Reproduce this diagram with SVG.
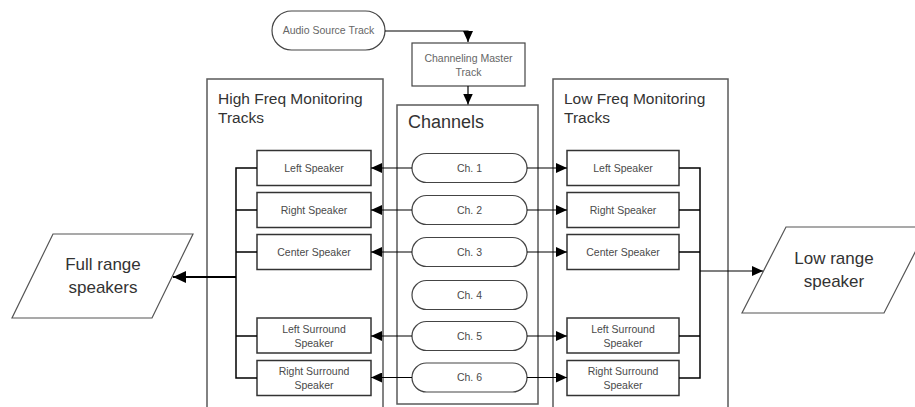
<svg xmlns="http://www.w3.org/2000/svg" width="915" height="407" viewBox="0 0 915 407">
  <defs>
    <marker id="arrow" markerUnits="userSpaceOnUse" markerWidth="12" markerHeight="10" refX="11" refY="5" orient="auto">
      <path d="M0,0 L11,5 L0,10 Z" fill="#000"/>
    </marker>
    <marker id="arrowBig" markerUnits="userSpaceOnUse" markerWidth="14" markerHeight="12" refX="13" refY="6" orient="auto">
      <path d="M0,0 L13,6 L0,12 Z" fill="#000"/>
    </marker>
    <style>
      .container { fill: #fff; stroke: #5a5a5a; stroke-width: 1.5; }
      .box { fill: #fff; stroke: #333; stroke-width: 1.5; }
      .term { fill: #fff; stroke: #444; stroke-width: 1.2; }
      .io { fill: #fff; stroke: #555; stroke-width: 1.2; }
      .title { font-family: "Liberation Sans", Arial, sans-serif; font-size: 15.5px; fill: #333; }
      .big { font-family: "Liberation Sans", Arial, sans-serif; font-size: 18px; fill: #333; }
      .io-text { font-family: "Liberation Sans", Arial, sans-serif; font-size: 17px; fill: #333; text-anchor: middle; }
      .small { font-family: "Liberation Sans", Arial, sans-serif; font-size: 10.5px; fill: #4a4a4a; text-anchor: middle; }
      .faint { font-family: "Liberation Sans", Arial, sans-serif; font-size: 10.5px; fill: #666; text-anchor: middle; }
      .wire { fill: none; stroke: #000; stroke-width: 1.2; }
      .wire-bold { fill: none; stroke: #000; stroke-width: 2; }
    </style>
  </defs>

  <!-- Source and master track -->
  <g id="audio-source">
    <rect class="term" x="272" y="11" width="113" height="39" rx="19.5"/>
    <text class="faint" x="328.5" y="34">Audio Source Track</text>
  </g>
  <g id="channeling-master">
    <rect class="box" x="412" y="43" width="113" height="43" style="stroke:#444;stroke-width:1.2"/>
    <text class="faint" x="468.5" y="62">Channeling Master</text>
    <text class="faint" x="468.5" y="76">Track</text>
  </g>

  <!-- Containers -->
  <g id="high-freq">
    <rect class="container" x="207" y="79" width="176" height="340"/>
    <text class="title" x="218" y="104">High Freq Monitoring</text>
    <text class="title" x="218" y="123">Tracks</text>
  </g>
  <g id="channels">
    <rect class="container" x="397" y="105" width="141" height="299"/>
    <text class="big" x="408" y="128">Channels</text>
  </g>
  <g id="low-freq">
    <rect class="container" x="553" y="79" width="175" height="340"/>
    <text class="title" x="564" y="104">Low Freq Monitoring</text>
    <text class="title" x="564" y="123">Tracks</text>
  </g>

  <!-- High frequency speaker tracks -->
  <g id="hf-left">
    <rect class="box" x="257" y="150.5" width="114" height="35"/>
    <text class="small" x="314" y="171.5">Left Speaker</text>
  </g>
  <g id="hf-right">
    <rect class="box" x="257" y="192.5" width="114" height="35"/>
    <text class="small" x="314" y="213.5">Right Speaker</text>
  </g>
  <g id="hf-center">
    <rect class="box" x="257" y="234.5" width="114" height="35"/>
    <text class="small" x="314" y="255.5">Center Speaker</text>
  </g>
  <g id="hf-left-surround">
    <rect class="box" x="257" y="318" width="114" height="35"/>
    <text class="small" x="314" y="333">Left Surround</text>
    <text class="small" x="314" y="347">Speaker</text>
  </g>
  <g id="hf-right-surround">
    <rect class="box" x="257" y="360.5" width="114" height="35"/>
    <text class="small" x="314" y="375">Right Surround</text>
    <text class="small" x="314" y="389">Speaker</text>
  </g>

  <!-- Channels -->
  <g id="ch1">
    <rect class="term" x="412" y="153.5" width="115" height="29" rx="14.5"/>
    <text class="small" x="469.5" y="171.5">Ch. 1</text>
  </g>
  <g id="ch2">
    <rect class="term" x="412" y="195.5" width="115" height="29" rx="14.5"/>
    <text class="small" x="469.5" y="213.5">Ch. 2</text>
  </g>
  <g id="ch3">
    <rect class="term" x="412" y="237.5" width="115" height="29" rx="14.5"/>
    <text class="small" x="469.5" y="255.5">Ch. 3</text>
  </g>
  <g id="ch4">
    <rect class="term" x="412" y="280.5" width="115" height="29" rx="14.5"/>
    <text class="small" x="469.5" y="298.5">Ch. 4</text>
  </g>
  <g id="ch5">
    <rect class="term" x="412" y="321.5" width="115" height="29" rx="14.5"/>
    <text class="small" x="469.5" y="339.5">Ch. 5</text>
  </g>
  <g id="ch6">
    <rect class="term" x="412" y="363" width="115" height="29" rx="14.5"/>
    <text class="small" x="469.5" y="381">Ch. 6</text>
  </g>

  <!-- Low frequency speaker tracks -->
  <g id="lf-left">
    <rect class="box" x="567" y="150.5" width="112" height="35"/>
    <text class="small" x="623" y="171.5">Left Speaker</text>
  </g>
  <g id="lf-right">
    <rect class="box" x="567" y="192.5" width="112" height="35"/>
    <text class="small" x="623" y="213.5">Right Speaker</text>
  </g>
  <g id="lf-center">
    <rect class="box" x="567" y="234.5" width="112" height="35"/>
    <text class="small" x="623" y="255.5">Center Speaker</text>
  </g>
  <g id="lf-left-surround">
    <rect class="box" x="567" y="318" width="112" height="35"/>
    <text class="small" x="623" y="333">Left Surround</text>
    <text class="small" x="623" y="347">Speaker</text>
  </g>
  <g id="lf-right-surround">
    <rect class="box" x="567" y="360.5" width="112" height="35"/>
    <text class="small" x="623" y="375">Right Surround</text>
    <text class="small" x="623" y="389">Speaker</text>
  </g>

  <!-- Outputs -->
  <g id="full-range">
    <polygon class="io" points="53,234 193,234 152,318 12,318"/>
    <text class="io-text" x="103" y="270">Full range</text>
    <text class="io-text" x="103" y="293">speakers</text>
  </g>
  <g id="low-range">
    <polygon class="io" points="786,227 928,227 884,313 742,313"/>
    <text class="io-text" x="834" y="264">Low range</text>
    <text class="io-text" x="834" y="287">speaker</text>
  </g>

  <!-- Connectors -->
  <g id="connectors">
    <path class="wire" d="M385,31 H468 V42" marker-end="url(#arrow)"/>
    <path class="wire" d="M468,86 V104.5" marker-end="url(#arrow)"/>

    <!-- channels to high frequency tracks -->
    <path class="wire" d="M412,168 H371" marker-end="url(#arrow)"/>
    <path class="wire" d="M412,210 H371" marker-end="url(#arrow)"/>
    <path class="wire" d="M412,252 H371" marker-end="url(#arrow)"/>
    <path class="wire" d="M412,336 H371" marker-end="url(#arrow)"/>
    <path class="wire" d="M412,377.5 H371" marker-end="url(#arrow)"/>

    <!-- channels to low frequency tracks -->
    <path class="wire" d="M527,168 H567" marker-end="url(#arrow)"/>
    <path class="wire" d="M527,210 H567" marker-end="url(#arrow)"/>
    <path class="wire" d="M527,252 H567" marker-end="url(#arrow)"/>
    <path class="wire" d="M527,336 H567" marker-end="url(#arrow)"/>
    <path class="wire" d="M527,377.5 H567" marker-end="url(#arrow)"/>

    <!-- high frequency bus -->
    <path class="wire" d="M257,168 H236 V378 H257 M236,210 H257 M236,252 H257 M236,336 H257" style="stroke-width:1.5"/>
    <path class="wire-bold" d="M236,277 H173" marker-end="url(#arrowBig)"/>

    <!-- low frequency bus -->
    <path class="wire" d="M679,168 H700 V378 H679 M700,210 H679 M700,252 H679 M700,336 H679" style="stroke-width:1.5"/>
    <path class="wire" d="M700,271 H763" marker-end="url(#arrow)"/>
  </g>
</svg>
